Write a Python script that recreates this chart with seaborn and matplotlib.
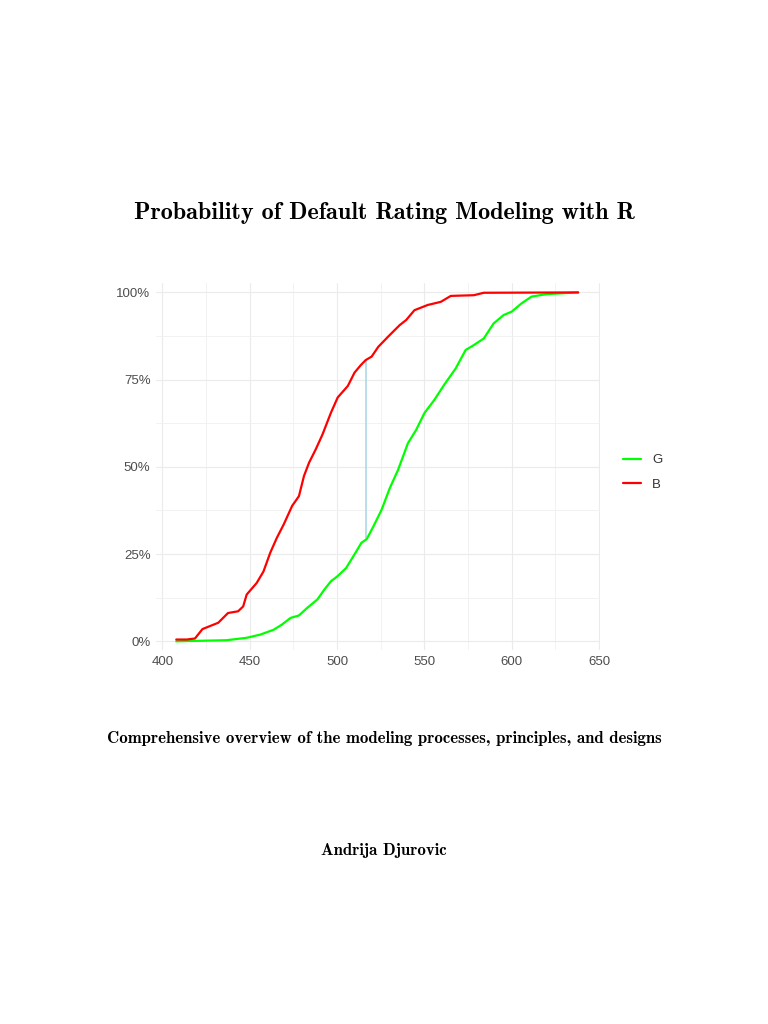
import numpy as np
import pandas as pd
import matplotlib
matplotlib.use('Agg')
import matplotlib.pyplot as plt
from matplotlib.ticker import PercentFormatter, MultipleLocator
import seaborn as sns

# cumulative share of good (G) and bad (B) accounts by score
good_score = [408, 436.7, 448.3, 456, 463.7, 468.5, 473.4, 478.2, 483, 488.8, 492.7,
              496.5, 500.4, 505.2, 510, 513.9, 517, 520.8, 525.5, 530.2, 534.9, 540.6,
              545.3, 550, 555.7, 561.3, 567.9, 573.6, 578.3, 584, 589.6, 595.3, 600,
              605.7, 611.3, 619.8, 638]
good_pct = [0, 0.3, 1, 1.9, 3.3, 4.8, 6.7, 7.4, 9.6, 12, 14.8,
            17.2, 18.7, 21, 24.9, 28.2, 29.3, 32.9, 37.7, 43.9, 49.1, 56.8,
            60.6, 65.4, 69.2, 73.5, 78.2, 83.5, 84.9, 86.8, 91.1, 93.5, 94.5,
            96.9, 98.8, 99.5, 100]
bad_score = [408, 414, 418.7, 423, 432, 437.6, 443.4, 446.3, 448.3, 454, 457.9, 461.8,
             465.6, 469.5, 474.3, 478.2, 481.1, 484, 487.8, 491.7, 496.5, 500.4, 506.2,
             510, 513.5, 516.4, 519.8, 523.6, 529.2, 535.8, 539.6, 544.3, 551.9, 559.4,
             565.1, 578.3, 584, 638]
bad_pct = [0.5, 0.5, 0.8, 3.5, 5.3, 8.1, 8.6, 10, 13.4, 16.7, 20, 25.4,
           29.7, 33.5, 38.8, 41.6, 47.4, 51.2, 55, 59.3, 65.5, 69.9, 73.2,
           77, 79.1, 80.6, 81.6, 84.4, 87.3, 90.6, 92.1, 94.9, 96.4, 97.3,
           99, 99.2, 99.9, 100]

# KS statistic segment
ks_score = 516.4
ks_low, ks_high = 29.1, 80.6

title = 'Probability of Default Rating Modeling with R'
subtitle = 'Comprehensive overview of the modeling processes, principles, and designs'
author = 'Andrija Djurovic'

df = pd.concat([
    pd.DataFrame({'score': good_score, 'cdf': np.array(good_pct) / 100, 'group': 'G'}),
    pd.DataFrame({'score': bad_score, 'cdf': np.array(bad_pct) / 100, 'group': 'B'}),
], ignore_index=True)

sns.set_style('white')
plt.rcParams['font.family'] = ['Liberation Sans', 'DejaVu Sans']

fig = plt.figure(figsize=(7.68, 10.24), dpi=100)
ax = fig.add_axes([156 / 768, 1 - 650 / 1024, 444 / 768, 367 / 1024])

sns.lineplot(data=df, x='score', y='cdf', hue='group', hue_order=['G', 'B'],
             palette={'G': '#00FF00', 'B': '#FF0000'}, linewidth=1.6, ax=ax,
             estimator=None, sort=False)
ax.plot([ks_score, ks_score], [ks_low / 100, ks_high / 100], color='#ADD8E6', linewidth=1.2, zorder=1)

ax.set_xlim(396.4, 650.5)
ax.set_ylim(-0.025, 1.027)
ax.xaxis.set_major_locator(MultipleLocator(50))
ax.xaxis.set_minor_locator(MultipleLocator(25))
ax.yaxis.set_major_locator(MultipleLocator(0.25))
ax.yaxis.set_minor_locator(MultipleLocator(0.125))
ax.yaxis.set_major_formatter(PercentFormatter(1.0, decimals=0))
ax.grid(which='major', color='#ebebeb', linewidth=0.8)
ax.grid(which='minor', color='#f0f0f0', linewidth=0.6)
ax.set_axisbelow(True)
for s in ax.spines.values():
    s.set_visible(False)
ax.tick_params(which='both', length=0, labelsize=9.5, labelcolor='#4d4d4d', pad=4)
ax.set_xlabel('')
ax.set_ylabel('')

sns.move_legend(ax, loc='center left', bbox_to_anchor=(623 / 768, 1 - 472.5 / 1024),
                bbox_transform=fig.transFigure, title=None, frameon=False,
                fontsize=9.5, handlelength=1.4, handletextpad=0.8, labelspacing=0.95,
                borderpad=0, borderaxespad=0)
for t in ax.get_legend().get_texts():
    t.set_color('#333333')

fig.text(0.5, 1 - 213 / 1024, title, family='cmb10', fontsize=17.4, color='black',
         ha='center', va='center')
fig.text(0.5, 1 - 739 / 1024, subtitle, family='cmb10', fontsize=12.1, color='black',
         ha='center', va='center')
fig.text(0.5, 1 - 850 / 1024, author, family='cmb10', fontsize=12.1, color='black',
         ha='center', va='center')

fig.savefig('out.png', dpi=100)
